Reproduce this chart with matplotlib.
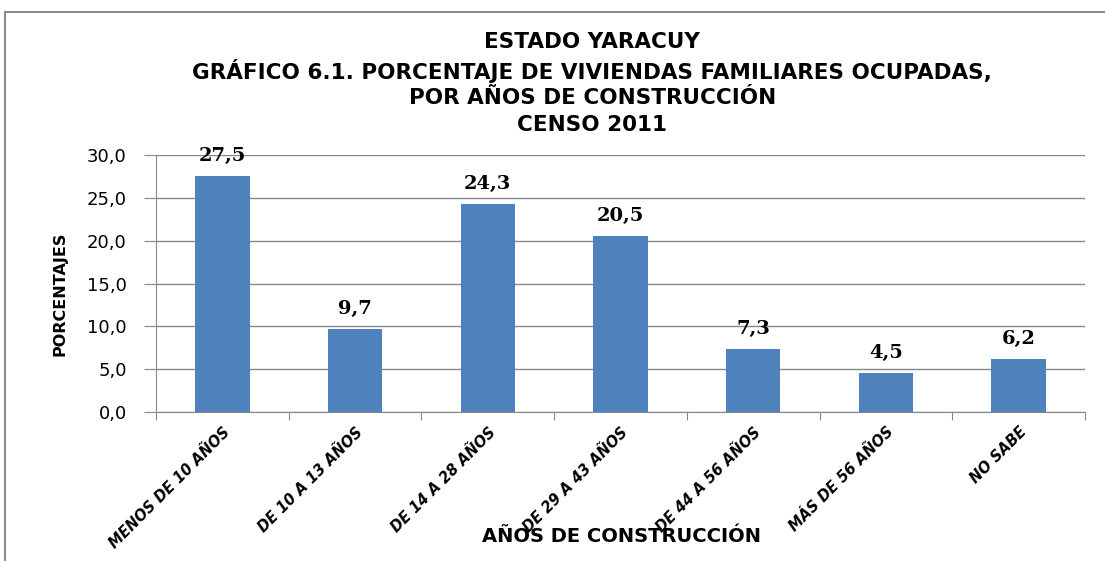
import numpy as np
import matplotlib.pyplot as plt
from matplotlib.lines import Line2D

# === DATA ===
categories = ["MENOS DE 10 AÑOS", "DE 10 A 13 AÑOS", "DE 14 A 28 AÑOS", "DE 29 A 43 AÑOS",
              "DE 44 A 56 AÑOS", "MÁS DE 56 AÑOS", "NO SABE"]
values = [27.5, 9.7, 24.3, 20.5, 7.3, 4.5, 6.2]
yticks = [0, 5, 10, 15, 20, 25, 30]

title_lines = ["ESTADO YARACUY",
               "GRÁFICO 6.1. PORCENTAJE DE VIVIENDAS FAMILIARES OCUPADAS,",
               "POR AÑOS DE CONSTRUCCIÓN",
               "CENSO 2011"]

BAR_COLOR = "#4f81bd"
GRID_COLOR = "#888888"

def fmt(v):
    return f"{v:.1f}".replace(".", ",")

fig = plt.figure(figsize=(11.05, 5.61), dpi=100)
ax = fig.add_axes([0.1412, 0.2656, 0.8407, 0.4581])

x = np.arange(len(categories))
ax.bar(x, values, width=0.41, color=BAR_COLOR, zorder=3)

for xi, v in zip(x, values):
    ax.text(xi, v + 1.3, fmt(v), ha="center", va="bottom", fontsize=14,
            fontweight="bold", family="DejaVu Serif", zorder=4, clip_on=False)

ax.set_xlim(-0.5, len(categories) - 0.5)
ax.set_ylim(0, 30)
ax.set_yticks(yticks)
ax.set_yticklabels([fmt(t) for t in yticks], fontsize=13, family="DejaVu Sans")
ax.yaxis.grid(True, color=GRID_COLOR, linewidth=1, zorder=0)
ax.tick_params(axis="y", length=9, color=GRID_COLOR, pad=12)

# category ticks between bars, labels at bar centers
ax.set_xticks(np.arange(-0.5, len(categories), 1.0))
ax.set_xticklabels([])
ax.tick_params(axis="x", which="major", length=6, color=GRID_COLOR, direction="out")
ax.set_xticks(x, minor=True)
ax.set_xticklabels(categories, minor=True, rotation=45, ha="right", va="top",
                   rotation_mode="anchor", fontsize=10.5, fontweight="bold", fontstyle="italic")
ax.tick_params(axis="x", which="minor", length=0, pad=9)

for s in ["top", "right"]:
    ax.spines[s].set_visible(False)
for s in ["left", "bottom"]:
    ax.spines[s].set_color(GRID_COLOR)

# title, one line at a time for even spacing
for line, yy in zip(title_lines, [0.925, 0.874, 0.825, 0.777]):
    fig.text(0.536, yy, line, ha="center", va="center", fontsize=15.5, fontweight="bold")

ax.set_ylabel("PORCENTAJES", fontsize=11.5, fontweight="bold")
ax.yaxis.set_label_coords(-0.095, 0.46)
fig.text(0.562, 0.043, "AÑOS DE CONSTRUCCIÓN", ha="center", va="center",
         fontsize=14, fontweight="bold")

# outer frame (top and left edges of the chart area)
fig.add_artist(Line2D([0.0045, 1.0], [0.979, 0.979], transform=fig.transFigure,
                      color="#8c8c8c", linewidth=1.5))
fig.add_artist(Line2D([0.0045, 0.0045], [0.0, 0.979], transform=fig.transFigure,
                      color="#8c8c8c", linewidth=1.5))

fig.savefig("out.png", dpi=100)
